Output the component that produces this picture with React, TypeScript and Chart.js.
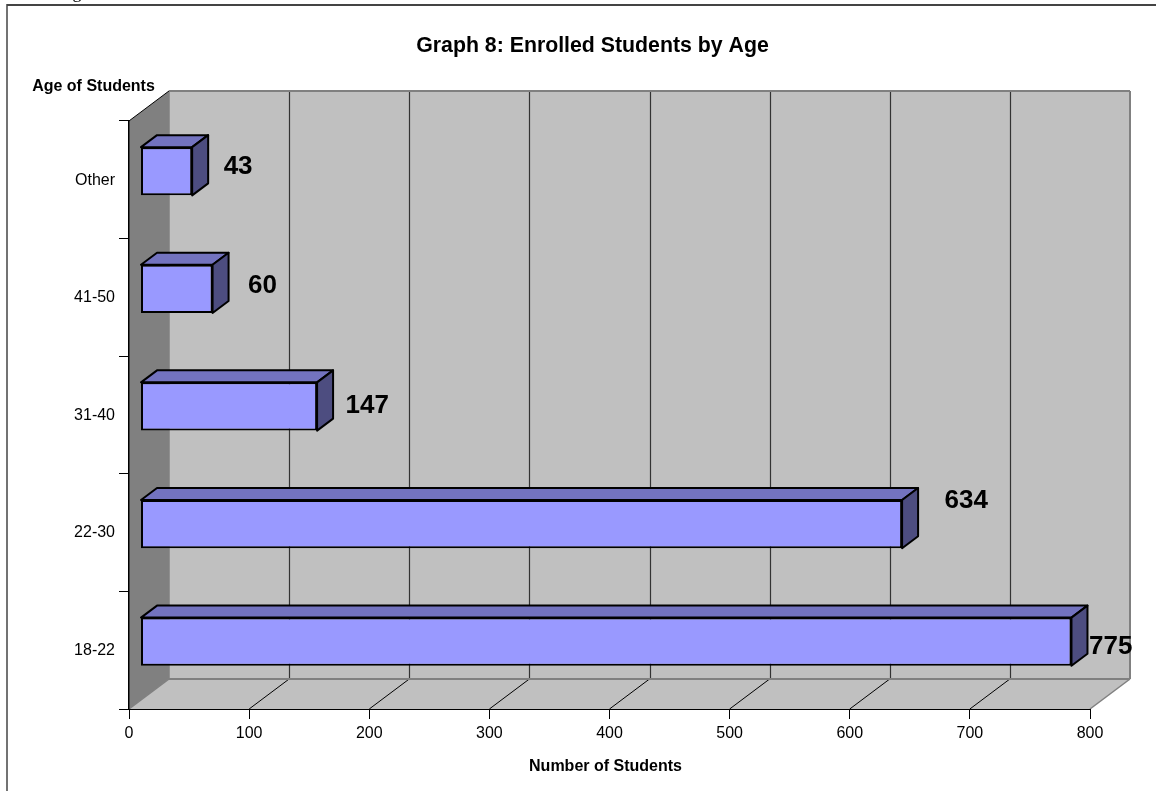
import React, { useEffect, useRef } from "react";
import { Chart, registerables } from "chart.js";

Chart.register(...registerables);

const categories = ["Other", "41-50", "31-40", "22-30", "18-22"];
const students = [43, 60, 147, 634, 775];
const xTickStep = 100;
const xMax = 800;
const chartTitle = "Graph 8: Enrolled Students by Age";
const xTitle = "Number of Students";
const yTitle = "Age of Students";
const clippedHeader = "g";

// Hand-placed label nudges of the reference, relative to the bar's far end.
const labelNudgeX = [15, 19, 12, 26, 1];
const labelNudgeY = [-4, -2.4, 0, -22.6, 5.5];

const FONT = "'Liberation Sans', Arial, sans-serif";
const WALL_DX = 40;
const WALL_DY = 30;
const BAR_SHIFT_X = 11.5;
const BAR_SHIFT_Y = 8.5;
const BAR_DX = 16;
const BAR_DY = 12;
const WALL_EDGE = "#808080";

function poly(ctx: CanvasRenderingContext2D, pts: number[][], fill: string) {
  ctx.beginPath();
  pts.forEach(([x, y], i) => (i ? ctx.lineTo(x, y) : ctx.moveTo(x, y)));
  ctx.closePath();
  ctx.fillStyle = fill;
  ctx.fill();
}

function line(ctx: CanvasRenderingContext2D, x1: number, y1: number, x2: number, y2: number, color: string, w: number) {
  ctx.beginPath();
  ctx.moveTo(x1, y1);
  ctx.lineTo(x2, y2);
  ctx.strokeStyle = color;
  ctx.lineWidth = w;
  ctx.stroke();
}

const scene3d = {
  id: "scene3d",
  afterLayout(chart: any) {
    // the reference title sits right of the page centre
    if (chart.titleBlock) chart.titleBlock.left += 95;
  },
  beforeDraw(chart: any) {
    const { ctx, chartArea: a, scales } = chart;
    const l = a.left, r = a.right, t = a.top, b = a.bottom;
    const dx = WALL_DX, dy = WALL_DY;
    ctx.save();
    // page frame
    ctx.fillStyle = "#ffffff";
    ctx.fillRect(0, 0, chart.width, chart.height);
    ctx.fillStyle = "#000000";
    ctx.font = "18px 'Liberation Serif', serif";
    ctx.textAlign = "center";
    ctx.textBaseline = "alphabetic";
    ctx.fillText(clippedHeader, 77, -2);
    line(ctx, 7, 5, chart.width, 5, "#444444", 2);
    line(ctx, 7, 4, 7, chart.height, "#444444", 1.5);
    // walls and floor
    poly(ctx, [[l + dx, t - dy], [r + dx, t - dy], [r + dx, b - dy], [l + dx, b - dy]], "#C0C0C0");
    poly(ctx, [[l, b], [l + dx, b - dy], [r + dx, b - dy], [r, b]], "#C0C0C0");
    poly(ctx, [[l, t], [l + dx, t - dy], [l + dx, b - dy], [l, b]], "#808080");
    // gridlines following the value scale
    for (let v = xTickStep; v < xMax; v += xTickStep) {
      const x = scales.x.getPixelForValue(v);
      const wallX = Math.round(x + dx) + 0.5;
      line(ctx, wallX, t - dy, wallX, b - dy, "#333333", 1.2);
      line(ctx, x, b, x + dx, b - dy, "#000000", 1);
    }
    line(ctx, l + dx, t - dy, r + dx, t - dy, WALL_EDGE, 2);
    line(ctx, l + dx, t - dy, l + dx, b - dy, WALL_EDGE, 1.5);
    line(ctx, r + dx, t - dy, r + dx, b - dy, WALL_EDGE, 2);
    line(ctx, l + dx, b - dy, r + dx, b - dy, WALL_EDGE, 2);
    line(ctx, r, b, r + dx, b - dy, WALL_EDGE, 1.5);
    line(ctx, l, b, l + dx, b - dy, WALL_EDGE, 1.5);
    line(ctx, l, t, l + dx, t - dy, "#000000", 1);
    ctx.restore();
  },
  beforeDatasetDraw(chart: any) {
    chart.ctx.save();
    chart.ctx.translate(BAR_SHIFT_X, -BAR_SHIFT_Y);
  },
  afterDatasetDraw(chart: any, args: any) {
    const { ctx } = chart;
    const meta = chart.getDatasetMeta(args.index);
    meta.data.forEach((bar: any) => {
      const { x, y, base, height } = bar.getProps(["x", "y", "base", "height"], true);
      const top = y - height / 2;
      const bottom = y + height / 2;
      ctx.lineWidth = 2;
      ctx.strokeStyle = "#000000";
      ctx.lineJoin = "round";
      const topFace = [[base, top], [base + BAR_DX, top - BAR_DY], [x + BAR_DX, top - BAR_DY], [x, top]];
      const sideFace = [[x, top], [x + BAR_DX, top - BAR_DY], [x + BAR_DX, bottom - BAR_DY], [x, bottom]];
      poly(ctx, topFace, "#7373BF");
      ctx.stroke();
      poly(ctx, sideFace, "#4D4D80");
      ctx.stroke();
    });
    ctx.restore();
  },
  afterDatasetsDraw(chart: any) {
    const { ctx, chartArea: a } = chart;
    const meta = chart.getDatasetMeta(0);
    ctx.save();
    ctx.fillStyle = "#000000";
    ctx.textBaseline = "middle";
    ctx.textAlign = "left";
    ctx.font = `bold 26px ${FONT}`;
    meta.data.forEach((bar: any, i: number) => {
      const { x, y } = bar.getProps(["x", "y"], true);
      ctx.fillText(
        String(students[i]),
        x + 12 + BAR_DX + labelNudgeX[i],
        y - 9 + labelNudgeY[i]
      );
    });
    // axis titles placed as in the reference
    ctx.font = `bold 16px ${FONT}`;
    ctx.textAlign = "center";
    ctx.fillText(xTitle, (a.left + a.right) / 2 - 4, 767);
    ctx.fillText(yTitle, 93.5, 87);
    ctx.restore();
  },
};

export default function App() {
  const ref = useRef<HTMLCanvasElement | null>(null);
  useEffect(() => {
    if (!ref.current) return;
    const chart = new Chart(ref.current, {
      type: "bar",
      data: {
        labels: categories,
        datasets: [
          {
            data: students,
            backgroundColor: "#9999FF",
            borderColor: "#000000",
            borderWidth: 2,
            borderSkipped: false,
            barPercentage: 0.41,
            categoryPercentage: 1,
            clip: false as any,
          },
        ],
      },
      options: {
        indexAxis: "y",
        responsive: false,
        animation: false,
        devicePixelRatio: 1,
        layout: { padding: { left: 0, right: 66, top: 0, bottom: 0 } },
        plugins: {
          legend: { display: false },
          tooltip: { enabled: false },
          title: {
            display: true,
            text: chartTitle,
            color: "#000000",
            font: { family: FONT, size: 21.3, weight: "bold" },
            padding: { top: 33.2, bottom: 62.2 },
          },
        },
        scales: {
          x: {
            type: "linear",
            min: 0,
            max: xMax,
            ticks: {
              stepSize: xTickStep,
              color: "#000000",
              font: { family: FONT, size: 16 },
              padding: 5,
              maxRotation: 0,
            },
            grid: { drawOnChartArea: false, drawTicks: true, tickLength: 10, color: "#000000", lineWidth: 1 },
            border: { display: true, color: "#000000", width: 1 },
            afterFit(scale: any) {
              scale.height = 82;
            },
          },
          y: {
            type: "category",
            ticks: {
              color: "#000000",
              font: { family: FONT, size: 16 },
              padding: 4,
              labelOffset: 0.5,
            },
            grid: { drawOnChartArea: false, drawTicks: true, tickLength: 10, color: "#000000", lineWidth: 1 },
            border: { display: true, color: "#000000", width: 1.5 },
            afterFit(scale: any) {
              scale.width = 129;
            },
          },
        },
      },
      plugins: [scene3d],
    } as any);
    return () => chart.destroy();
  }, []);
  return (
    <canvas
      ref={ref}
      width={1156}
      height={791}
      style={{ position: "fixed", left: 0, top: 0, display: "block" }}
    />
  );
}
